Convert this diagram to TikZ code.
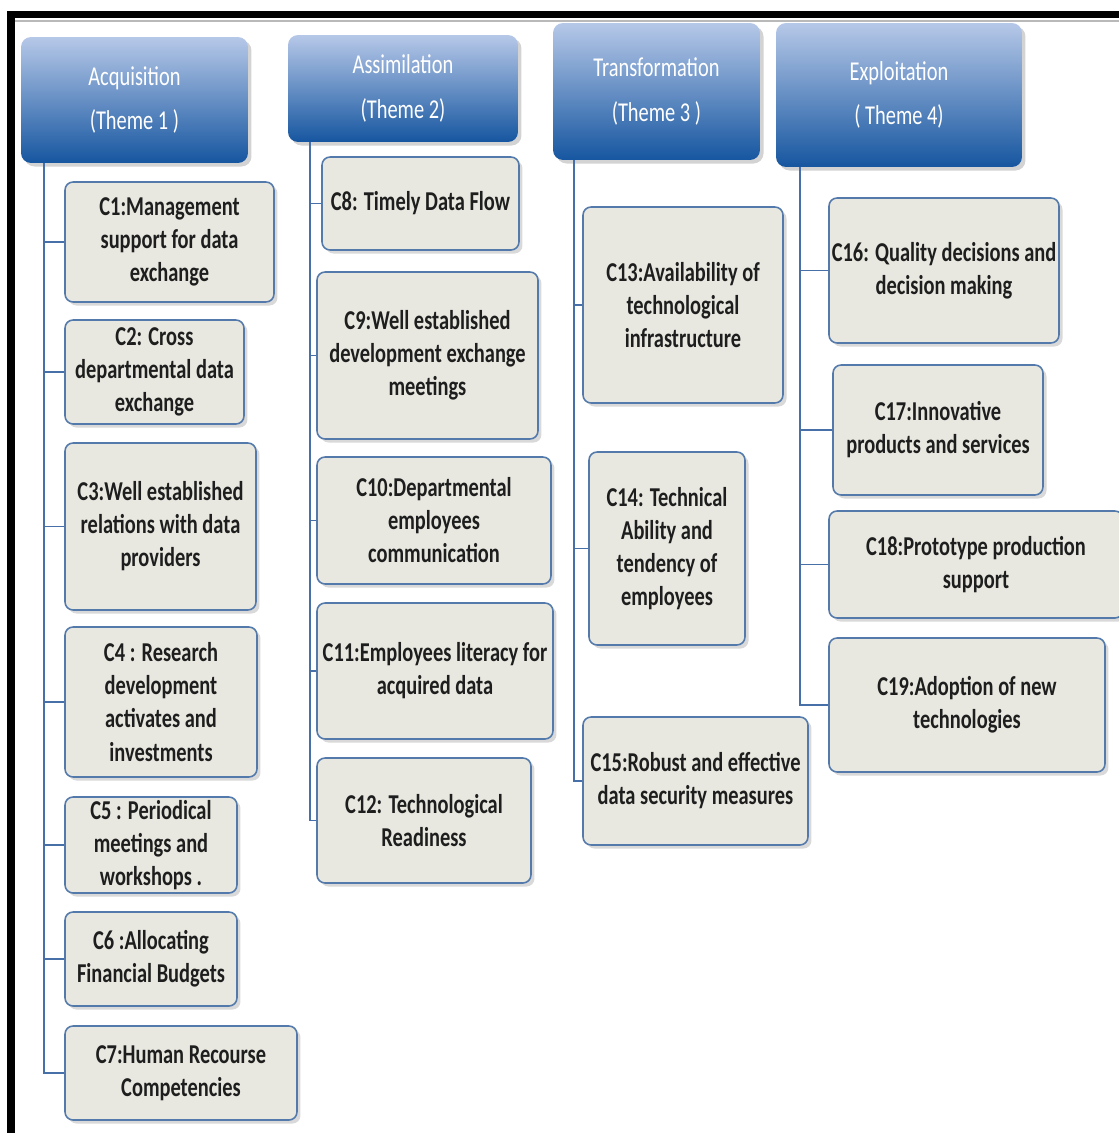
\documentclass[tikz,border=0pt]{standalone}
\usepackage{fontspec}
\setmainfont{Carlito}[FakeStretch=0.75]
\usepackage{xcolor}
\usepackage{tikz}
\usetikzlibrary{shadows}

\definecolor{boxfill}{RGB}{232,232,224}
\definecolor{boxline}{RGB}{84,122,172}
\definecolor{linkblue}{RGB}{72,112,168}
\definecolor{themetop}{RGB}{182,200,232}
\definecolor{themebot}{RGB}{22,86,160}
\definecolor{boxtext}{RGB}{30,30,30}

\begin{document}
\begin{tikzpicture}[x=0.02cm, y=-0.02cm,
  theme/.style={rectangle, rounded corners=0.2cm, top color=themetop, bottom color=themebot, text=white, align=center, inner sep=0pt, font=\fontsize{15.5}{25.5}\selectfont, drop shadow={shadow xshift=2pt, shadow yshift=-2pt, opacity=0.35}},
  crit/.style={rectangle, rounded corners=0.16cm, draw=boxline, line width=0.9pt, fill=boxfill, text=boxtext, align=center, inner sep=0pt, font=\fontsize{15.5}{18.8}\selectfont\bfseries, drop shadow={shadow xshift=2pt, shadow yshift=-2pt, opacity=0.3}},
  link/.style={draw=linkblue, line width=0.9pt}
]
\clip (0,0) rectangle (1119,1133);

% Frame
\fill[black] (7,11) rectangle (1119,18);
\fill[black] (7,11) rectangle (15,1133);
\draw[gray!55, line width=1.2pt] (15,21) -- (1119,21);

% Themes
\node[theme, minimum width=4.54cm, minimum height=2.52cm] (T1) at (134.5,100) {Acquisition\\(Theme 1 )};
\node[theme, minimum width=4.6cm, minimum height=2.14cm] (T2) at (403,88.5) {Assimilation\\(Theme 2)};
\node[theme, minimum width=4.14cm, minimum height=2.74cm] (T3) at (656.5,91.5) {Transformation\\(Theme 3 )};
\node[theme, minimum width=4.92cm, minimum height=2.88cm] (T4) at (899,95) {Exploitation\\( Theme 4)};

\coordinate (t1) at (44,0);
\coordinate (t2) at (310,0);
\coordinate (t3) at (574,0);
\coordinate (t4) at (800,0);

% Theme 1
\node[crit, minimum width=4.18cm, minimum height=2.40cm] (C1) at (169.5,242) {C1:Management\\support for data\\exchange};
\node[crit, minimum width=3.58cm, minimum height=2.08cm] (C2) at (154.5,372) {C2: Cross\\departmental data\\exchange};
\node[crit, minimum width=3.82cm, minimum height=3.34cm] (C3) at (160.5,526.5) {C3:Well established\\relations with data\\providers};
\node[crit, minimum width=3.84cm, minimum height=3.00cm] (C4) at (161,702) {C4 : Research\\development\\activates and\\investments};
\node[crit, minimum width=3.44cm, minimum height=1.92cm] (C5) at (151,845) {C5 : Periodical\\meetings and\\workshops .};
\node[crit, minimum width=3.44cm, minimum height=1.88cm] (C6) at (151,959) {C6 :Allocating\\Financial Budgets};
\node[crit, minimum width=4.64cm, minimum height=1.88cm] (C7) at (181,1073) {C7:Human Recourse\\Competencies};

% Theme 2
\node[crit, minimum width=3.94cm, minimum height=1.86cm] (C8) at (420.5,203.5) {C8: Timely Data Flow};
\node[crit, minimum width=4.42cm, minimum height=3.34cm] (C9) at (427.5,355.5) {C9:Well established\\development exchange\\meetings};
\node[crit, minimum width=4.68cm, minimum height=2.54cm] (C10) at (434,520.5) {C10:Departmental\\employees\\communication};
\node[crit, minimum width=4.72cm, minimum height=2.72cm] (C11) at (435,671) {C11:Employees literacy for\\acquired data};
\node[crit, minimum width=4.28cm, minimum height=2.50cm] (C12) at (424,820.5) {C12: Technological\\Readiness};

% Theme 3
\node[crit, minimum width=4.00cm, minimum height=3.92cm] (C13) at (683,305) {C13:Availability of\\technological\\infrastructure};
\node[crit, minimum width=3.12cm, minimum height=3.86cm] (C14) at (667,548.5) {C14: Technical\\Ability and\\tendency of\\employees};
\node[crit, minimum width=4.50cm, minimum height=2.56cm] (C15) at (695.5,781) {C15:Robust and effective\\data security measures};

% Theme 4
\node[crit, minimum width=4.60cm, minimum height=2.90cm] (C16) at (944,270.5) {C16: Quality decisions and\\decision making};
\node[crit, minimum width=4.20cm, minimum height=2.60cm] (C17) at (938,430) {C17:Innovative\\products and services};
\node[crit, minimum width=5.88cm, minimum height=2.14cm] (C18) at (976,564.5) {C18:Prototype production\\support};
\node[crit, minimum width=5.52cm, minimum height=2.68cm] (C19) at (967,705) {C19:Adoption of new\\technologies};

% Links
\draw[link] (T1.south -| t1) |- (C7.west);
\draw[link] (C1.west) -- (C1.west -| t1);
\draw[link] (C2.west) -- (C2.west -| t1);
\draw[link] (C3.west) -- (C3.west -| t1);
\draw[link] (C4.west) -- (C4.west -| t1);
\draw[link] (C5.west) -- (C5.west -| t1);
\draw[link] (C6.west) -- (C6.west -| t1);

\draw[link] (T2.south -| t2) |- (C12.west);
\draw[link] (C8.west) -- (C8.west -| t2);
\draw[link] (C9.west) -- (C9.west -| t2);
\draw[link] (C10.west) -- (C10.west -| t2);
\draw[link] (C11.west) -- (C11.west -| t2);

\draw[link] (T3.south -| t3) |- (C15.west);
\draw[link] (C13.west) -- (C13.west -| t3);
\draw[link] (C14.west) -- (C14.west -| t3);

\draw[link] (T4.south -| t4) |- (C19.west);
\draw[link] (C16.west) -- (C16.west -| t4);
\draw[link] (C17.west) -- (C17.west -| t4);
\draw[link] (C18.west) -- (C18.west -| t4);

\end{tikzpicture}
\end{document}
